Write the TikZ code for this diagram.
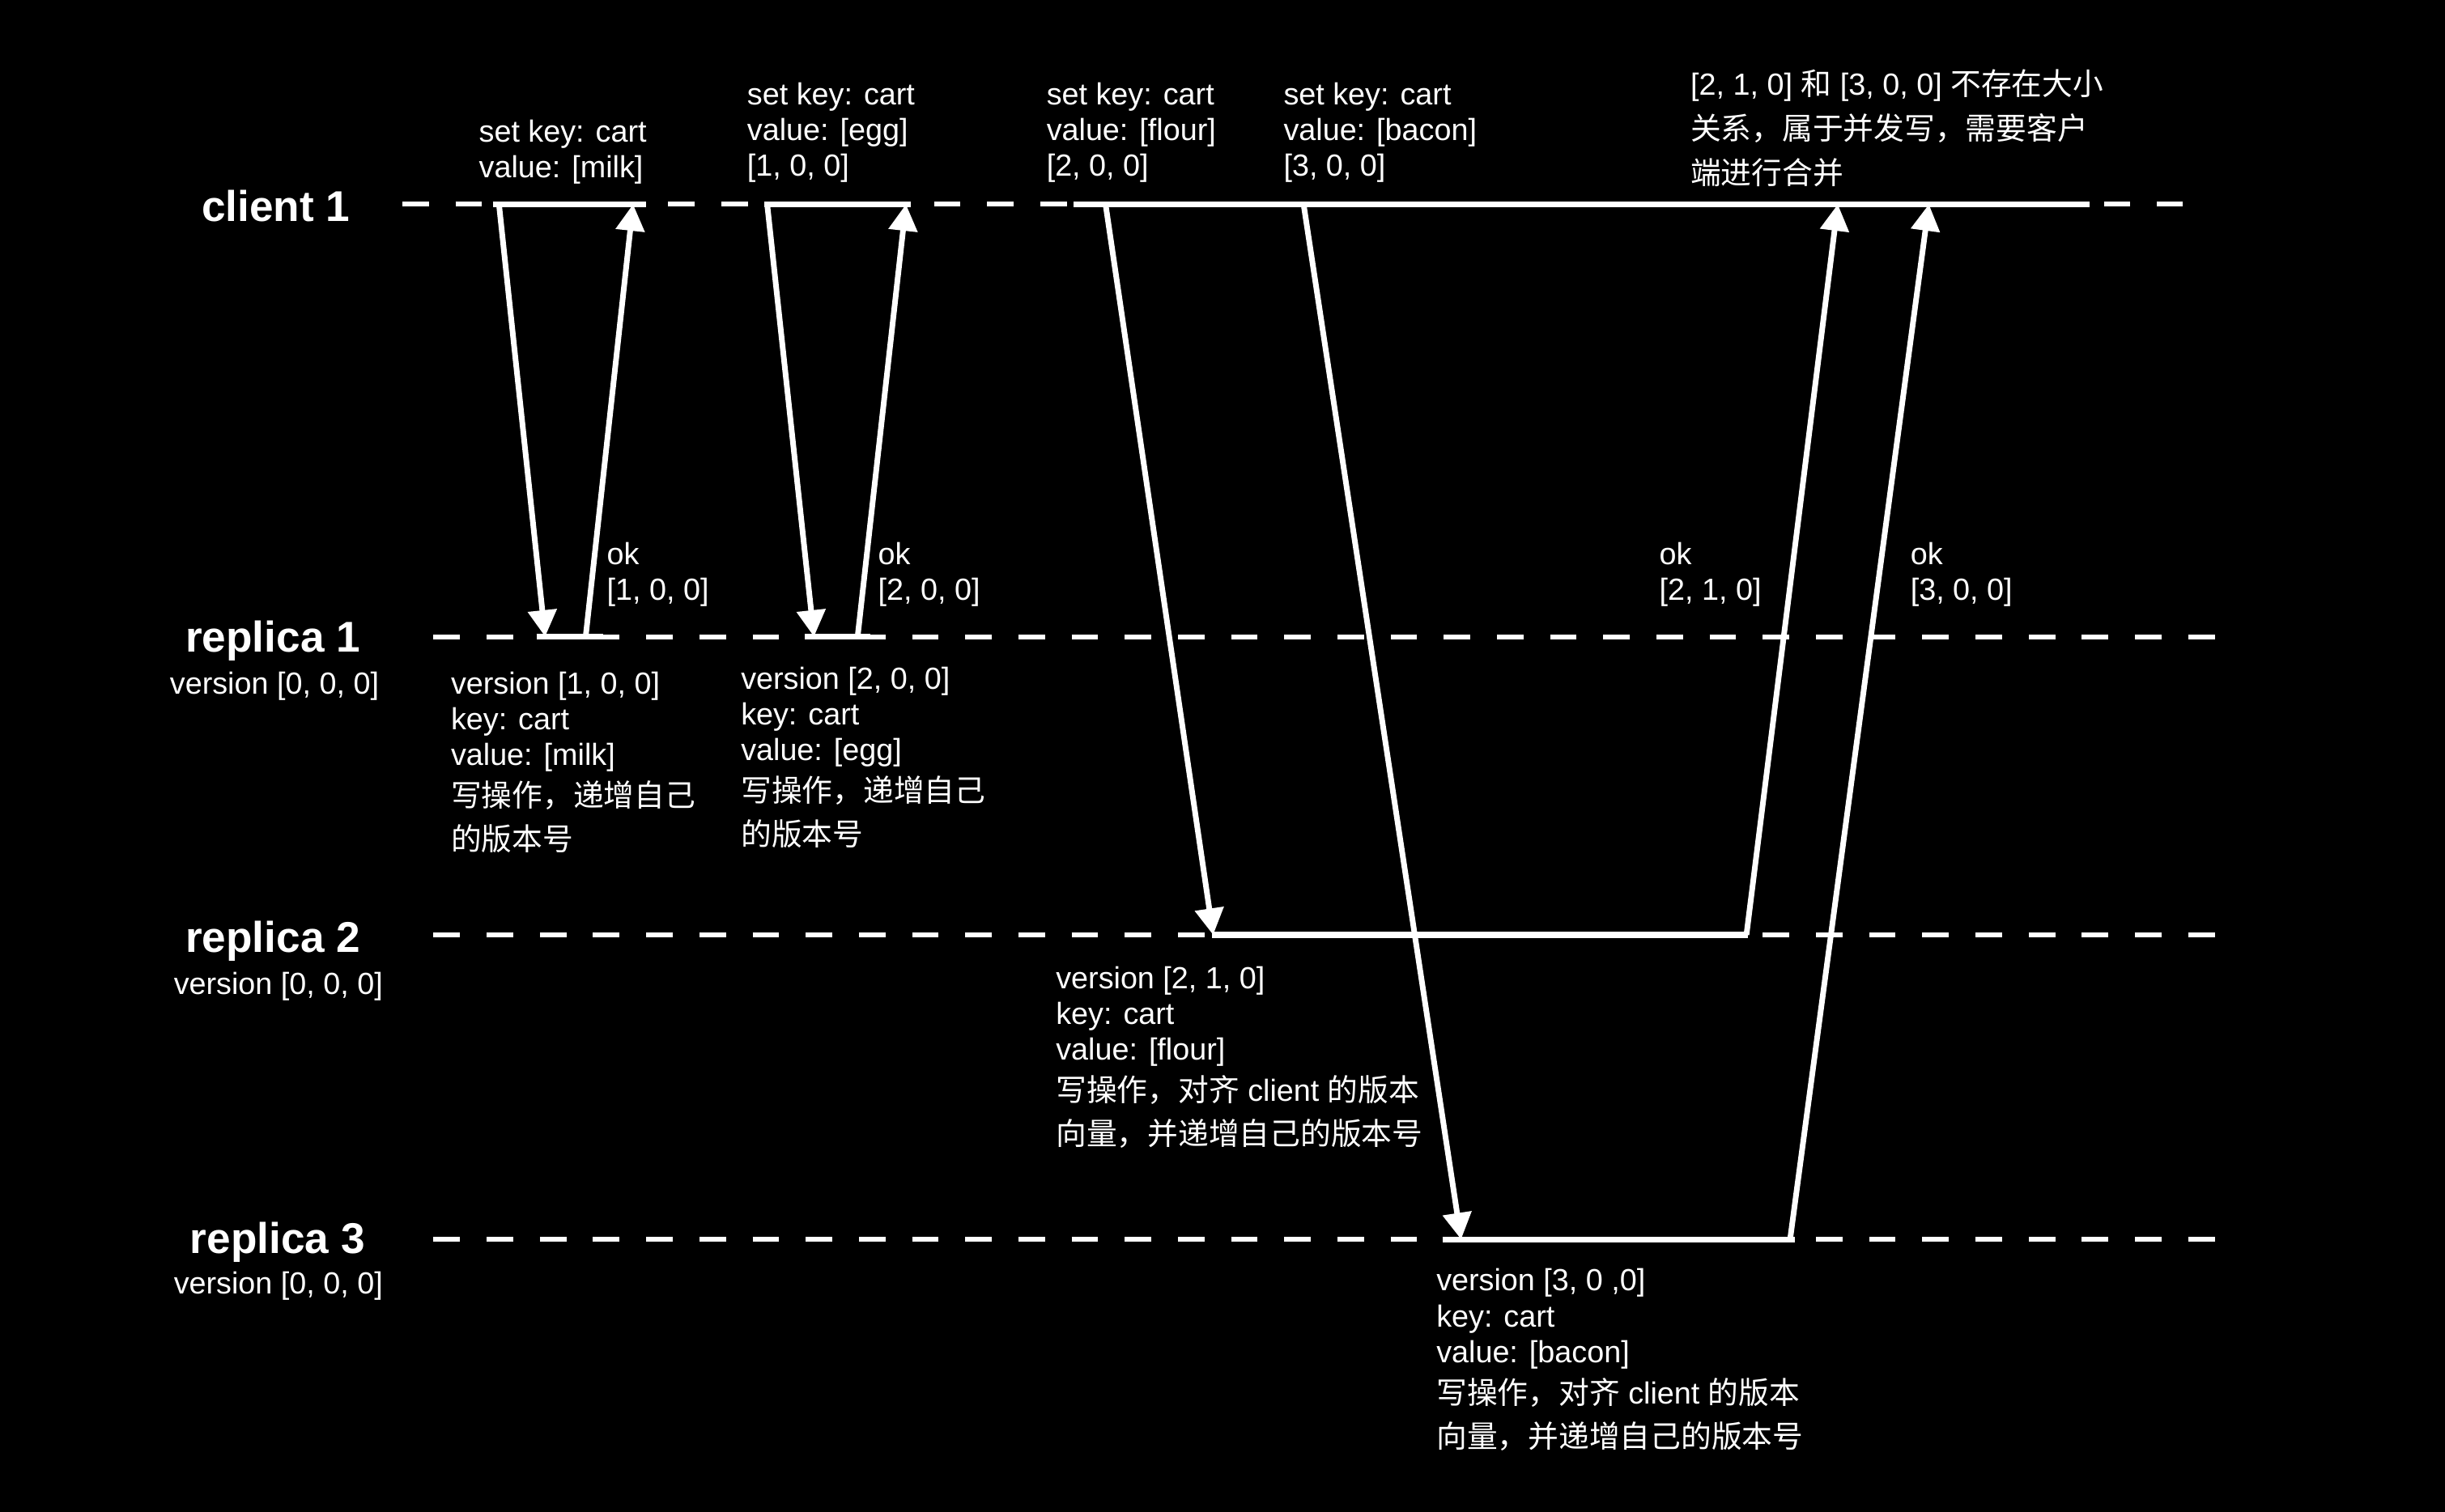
\documentclass[tikz,border=0pt]{standalone}
\usepackage{fontspec}
\setmainfont{Liberation Sans}
\newfontfamily\zhfont{Noto Sans CJK SC}
\newcommand\zh[1]{{\zhfont #1}}
\usetikzlibrary{arrows.meta}
\lineskiplimit=-20pt
\begin{document}
\begin{tikzpicture}[x=1pt,y=-1pt,
  txt/.style={text=white, font=\fontsize{19.6}{23}\selectfont, align=left, inner sep=0pt, anchor=base west},
  lbl/.style={text=white, font=\bfseries\fontsize{27.6}{30}\selectfont, inner sep=0pt, anchor=base},
  sublbl/.style={text=white, font=\fontsize{19.6}{23}\selectfont, inner sep=0pt, anchor=base},
  timeline/.style={white, line width=3.2pt, dash pattern=on 17pt off 17.1pt},
  active/.style={white, line width=3.8pt},
  msg/.style={white, line width=3.6pt, -{Triangle[length=17pt,width=18pt]}}
]
\useasboundingbox (0,0) rectangle (1568,969.4);
\fill[black] (-10,-10) rectangle (1578,980);

% lifeline labels
\node[lbl] (c1) at (177,142) {client 1};
\node[lbl] (r1) at (175,418) {replica 1};
\node[sublbl] (r1v) at (176,445) {version [0, 0, 0]};
\node[lbl] (r2) at (175,611) {replica 2};
\node[sublbl] (r2v) at (178.5,638) {version [0, 0, 0]};
\node[lbl] (r3) at (178,804) {replica 3};
\node[sublbl] (r3v) at (178.5,830) {version [0, 0, 0]};

% lifelines
\coordinate (c1a) at (258,131);   \coordinate (c1b) at (1400,131);
\coordinate (r1a) at (278,408.4); \coordinate (r1b) at (1421,408.4);
\coordinate (r2a) at (278,599.7); \coordinate (r2b) at (1421,599.7);
\coordinate (r3a) at (278,795);   \coordinate (r3b) at (1421,795);
\draw[timeline] (c1a) -- (c1b);
\draw[timeline] (r1a) -- (r1b);
\draw[timeline] (r2a) -- (r2b);
\draw[timeline] (r3a) -- (r3b);

% active segments
\coordinate (s1a) at (316,131);   \coordinate (s1b) at (414.5,131);
\coordinate (s2a) at (490,131);   \coordinate (s2b) at (584,131);
\coordinate (s3a) at (688.6,131); \coordinate (s3b) at (1340,131);
\coordinate (s4a) at (344,408.4); \coordinate (s4b) at (387,408.4);
\coordinate (s5a) at (516,408.4); \coordinate (s5b) at (558,408.4);
\coordinate (s6a) at (777,599.7); \coordinate (s6b) at (1121,599.7);
\coordinate (s7a) at (925,795);   \coordinate (s7b) at (1151,795);
\foreach \p in {1,...,7} \draw[active] (s\p a) -- (s\p b);

% messages
\coordinate (m1a) at (320,131);     \coordinate (m1b) at (349.6,408.4);
\coordinate (m2a) at (375.6,408.4); \coordinate (m2b) at (406,131);
\coordinate (m3a) at (492,131);     \coordinate (m3b) at (522,408.4);
\coordinate (m4a) at (550,408.4);   \coordinate (m4b) at (581,131);
\coordinate (m5a) at (709,131);     \coordinate (m5b) at (778,599.7);
\coordinate (m6a) at (836,131);     \coordinate (m6b) at (937,795);
\coordinate (m7a) at (1120,599.7);  \coordinate (m7b) at (1178.6,131);
\coordinate (m8a) at (1148,795);    \coordinate (m8b) at (1237,131);
\foreach \p in {1,...,8} \draw[msg] (m\p a) -- (m\p b);

% request labels (node base = baseline of last line)
\node[txt] (q1) at (307,114) {set key: cart\\value: [milk]};
\node[txt] (q2) at (479,113) {set key: cart\\value: [egg]\\{}[1, 0, 0]};
\node[txt] (q3) at (671,113) {set key: cart\\value: [flour]\\{}[2, 0, 0]};
\node[txt] (q4) at (823,113) {set key: cart\\value: [bacon]\\{}[3, 0, 0]};
\node[txt] (cc) at (1084,118) {[2, 1, 0] \zh{和} [3, 0, 0] \zh{不存在大小}\\[5.5pt]\zh{关系，属于并发写，需要客户}\\[5.5pt]\zh{端进行合并}};

% ok labels
\node[txt] (o1) at (389,385) {ok\\{}[1, 0, 0]};
\node[txt] (o2) at (563,385) {ok\\{}[2, 0, 0]};
\node[txt] (o3) at (1064,385) {ok\\{}[2, 1, 0]};
\node[txt] (o4) at (1225,385) {ok\\{}[3, 0, 0]};

% replica notes
\node[txt] (n1) at (289,545.5) {version [1, 0, 0]\\key: cart\\value: [milk]\\[3.5pt]\zh{写操作，递增自己}\\[5pt]\zh{的版本号}};
\node[txt] (n2) at (475,542.5) {version [2, 0, 0]\\key: cart\\value: [egg]\\[3.5pt]\zh{写操作，递增自己}\\[5pt]\zh{的版本号}};
\node[txt] (n3) at (677,734.5) {version [2, 1, 0]\\key: cart\\value: [flour]\\[3.5pt]\zh{写操作，对齐} client \zh{的版本}\\[5pt]\zh{向量，并递增自己的版本号}};
\node[txt] (n4) at (921,928.5) {version [3, 0 ,0]\\key: cart\\value: [bacon]\\[3.5pt]\zh{写操作，对齐} client \zh{的版本}\\[5pt]\zh{向量，并递增自己的版本号}};
\end{tikzpicture}
\end{document}
